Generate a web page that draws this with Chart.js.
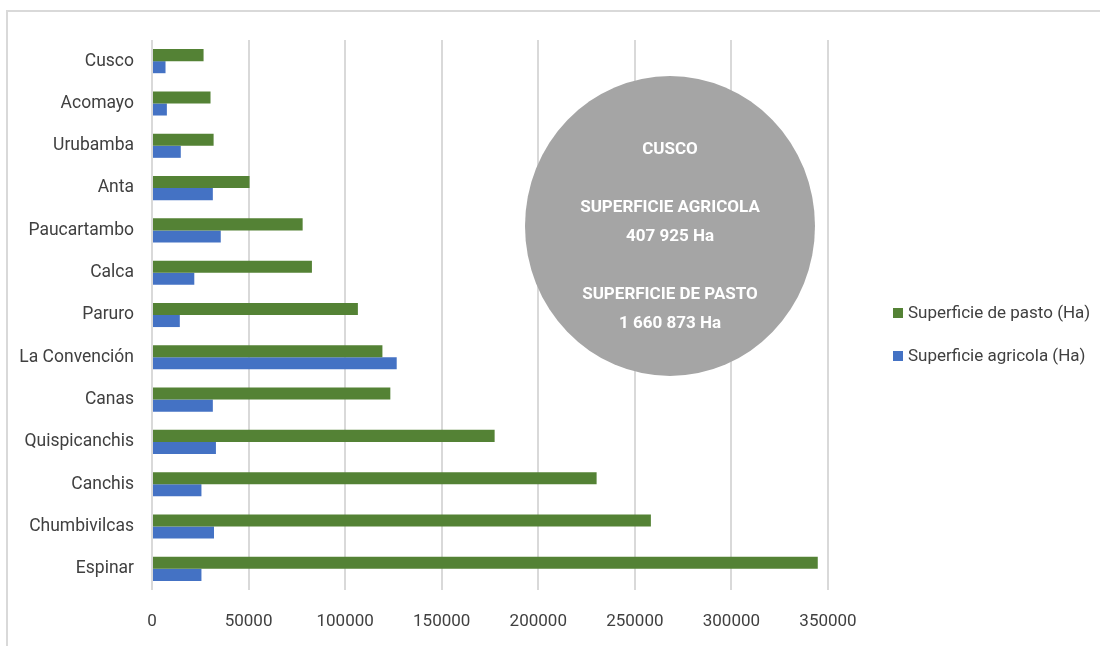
<!DOCTYPE html>
<html>
<head>
<meta charset="utf-8">
<script src="https://cdn.jsdelivr.net/npm/chart.js@4/dist/chart.umd.min.js"></script>
<style>
  body { margin: 0; background: #fff; }
  #wrap { position: relative; width: 1100px; height: 646px; overflow: hidden; }
  #frame { position: absolute; left: 6px; top: 10px; width: 1200px; height: 700px; border: 2px solid #d9d9d9; box-sizing: border-box; }
  canvas { position: absolute; left: 0; top: 0; }
  #bubble {
    position: absolute; left: 525px; top: 76px; width: 290px; height: 300px;
    border-radius: 50%; background: #a5a5a5; color: #fff; text-align: center;
    font: bold 17px Roboto, "Liberation Sans", sans-serif;
    line-height: 29px; box-sizing: border-box; padding-top: 58px;
  }
  #legend { position: absolute; left: 893px; top: 300px; font: 17px Roboto, "Liberation Sans", sans-serif; color: #404040; }
  #legend div { height: 24px; line-height: 24px; margin-bottom: 19px; white-space: nowrap; }
  #legend span { display: inline-block; width: 10px; height: 10px; margin-right: 5px; vertical-align: 0px; }
</style>
</head>
<body>
<div id="wrap">
  <div id="frame"></div>
  <canvas id="chart" width="1100" height="646"></canvas>
  <div id="bubble">CUSCO<br><br>SUPERFICIE AGRICOLA<br>407 925 Ha<br><br>SUPERFICIE DE PASTO<br>1 660 873 Ha</div>
  <div id="legend"></div>
</div>
<script>
const provincias = ['Cusco', 'Acomayo', 'Urubamba', 'Anta', 'Paucartambo', 'Calca', 'Paruro',
  'La Convención', 'Canas', 'Quispicanchis', 'Canchis', 'Chumbivilcas', 'Espinar'];
const superficiePasto = [26700, 30300, 31900, 50500, 78000, 82800, 106600,
  119300, 123400, 177400, 230200, 258300, 344700];
const superficieAgricola = [7000, 7700, 14900, 31500, 35600, 21900, 14400,
  126700, 31500, 33100, 25600, 32100, 25600];
const xTicks = [0, 50000, 100000, 150000, 200000, 250000, 300000, 350000];

const fontFamily = 'Roboto, "Liberation Sans", sans-serif';

const chart = new Chart(document.getElementById('chart'), {
  type: 'bar',
  data: {
    labels: provincias,
    datasets: [
      { label: 'Superficie de pasto (Ha)', data: superficiePasto, backgroundColor: '#548235', borderWidth: 0 },
      { label: 'Superficie agricola (Ha)', data: superficieAgricola, backgroundColor: '#4472c4', borderWidth: 0 }
    ]
  },
  options: {
    indexAxis: 'y',
    responsive: false,
    animation: false,
    devicePixelRatio: 1,
    layout: { padding: { left: 0, top: 40, right: 272, bottom: 0 } },
    datasets: { bar: { categoryPercentage: 0.57, barPercentage: 1 } },
    plugins: { legend: { display: false }, tooltip: { enabled: false } },
    scales: {
      x: {
        min: 0, max: 350000,
        afterBuildTicks: (scale) => { scale.ticks = xTicks.map(v => ({ value: v })); },
        afterFit: (scale) => { scale.height = 56; },
        grid: { color: '#d9d9d9', lineWidth: 2, drawTicks: false },
        border: { display: false },
        ticks: { font: { family: fontFamily, size: 17 }, color: '#404040', padding: 22, callback: (v) => String(v) }
      },
      y: {
        afterFit: (scale) => { scale.width = 152; },
        grid: { display: false, drawTicks: false },
        border: { display: false },
        ticks: { font: { family: fontFamily, size: 17.5 }, color: '#404040', padding: 18 }
      }
    }
  }
});

// legend built from the chart's datasets
const legend = document.getElementById('legend');
chart.data.datasets.forEach(ds => {
  const row = document.createElement('div');
  const box = document.createElement('span');
  box.style.background = ds.backgroundColor;
  row.appendChild(box);
  row.appendChild(document.createTextNode(ds.label));
  legend.appendChild(row);
});
</script>
</body>
</html>
